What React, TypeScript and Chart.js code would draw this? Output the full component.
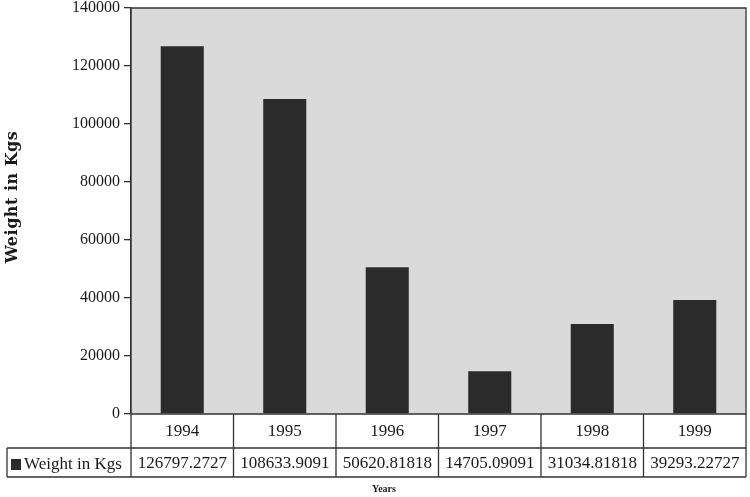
import React, { useEffect, useRef } from "react";
import { Chart, registerables } from "chart.js";

Chart.register(...registerables);

const years = ["1994", "1995", "1996", "1997", "1998", "1999"];
const weights = [126797.2727, 108633.9091, 50620.81818, 14705.09091, 31034.81818, 39293.22727];
const valueLabels = ["126797.2727", "108633.9091", "50620.81818", "14705.09091", "31034.81818", "39293.22727"];
const seriesName = "Weight in Kgs";
const xTitle = "Years";
const yTitle = "Weight in Kgs";

const SERIF = "'Liberation Serif', 'DejaVu Serif', serif";
const BAR = "#2b2b2b";
const LINE = "#333333";

const tablePlugin = {
  id: "tablePlugin",
  beforeDraw(chart: any) {
    const { ctx, chartArea } = chart;
    ctx.save();
    ctx.fillStyle = "#dadada";
    ctx.fillRect(chartArea.left, chartArea.top, chartArea.right - chartArea.left, chartArea.bottom - chartArea.top);
    ctx.restore();
  },
  afterDraw(chart: any) {
    const { ctx, chartArea } = chart;
    const xs = chart.scales.x;
    const left = chartArea.left;
    const right = chartArea.right;
    const top = chartArea.top;
    const bottom = chartArea.bottom;
    const n = years.length;
    const cw = (right - left) / n;
    const row1 = bottom + 34;
    const row2 = row1 + 29;
    const tableLeft = 7;
    ctx.save();
    ctx.strokeStyle = LINE;
    ctx.lineWidth = 1.3;
    ctx.beginPath();
    ctx.moveTo(left, bottom);
    ctx.lineTo(left, top);
    ctx.lineTo(right, top);
    ctx.lineTo(right, bottom);
    ctx.lineTo(left, bottom);
    ctx.stroke();
    ctx.beginPath();
    ctx.moveTo(tableLeft, row1);
    ctx.lineTo(right, row1);
    ctx.moveTo(tableLeft, row2);
    ctx.lineTo(right, row2);
    ctx.moveTo(tableLeft, row1);
    ctx.lineTo(tableLeft, row2);
    for (let i = 0; i <= n; i++) {
      const x = left + i * cw;
      ctx.moveTo(x, bottom);
      ctx.lineTo(x, row2);
    }
    ctx.stroke();
    ctx.fillStyle = "#1a1a1a";
    ctx.font = `17px ${SERIF}`;
    ctx.textAlign = "center";
    ctx.textBaseline = "middle";
    for (let i = 0; i < n; i++) {
      const cx = xs.getPixelForValue(i);
      ctx.fillText(years[i], cx, (bottom + row1) / 2 + 1);
      ctx.fillText(valueLabels[i], cx, (row1 + row2) / 2 + 1);
    }
    ctx.fillStyle = BAR;
    ctx.fillRect(11, row1 + 11, 10, 11);
    ctx.fillStyle = "#1a1a1a";
    ctx.textAlign = "left";
    ctx.fillText(seriesName, 24, (row1 + row2) / 2 + 2);
    ctx.font = `bold 10px ${SERIF}`;
    ctx.textAlign = "center";
    ctx.fillText(xTitle, 384, row2 + 12);
    ctx.save();
    ctx.translate(13, 197);
    ctx.rotate(-Math.PI / 2);
    ctx.font = `bold 16px 'DejaVu Serif', serif`;
    try { (ctx as any).letterSpacing = "0.5px"; } catch (e) {}
    ctx.textAlign = "center";
    ctx.textBaseline = "middle";
    ctx.fillText(yTitle, 0, 0);
    ctx.restore();
    ctx.restore();
  },
};

export default function App() {
  const ref = useRef<HTMLCanvasElement | null>(null);
  useEffect(() => {
    document.body.style.margin = "0";
    if (!ref.current) return;
    const chart = new Chart(ref.current, {
      type: "bar",
      data: {
        labels: years,
        datasets: [
          {
            label: seriesName,
            data: weights,
            backgroundColor: BAR,
            borderWidth: 0,
            barPercentage: 0.84,
            categoryPercentage: 0.5,
          },
        ],
      },
      options: {
        animation: false,
        responsive: false,
        maintainAspectRatio: false,
        layout: { padding: { left: 0, top: 8, right: 4, bottom: 83 } },
        plugins: { legend: { display: false }, tooltip: { enabled: false } },
        scales: {
          x: { display: false },
          y: {
            min: 0,
            max: 140000,
            ticks: {
              stepSize: 20000,
              color: "#1a1a1a",
              padding: 4,
              font: { family: SERIF, size: 16 },
              callback: (v: any) => String(v),
            },
            grid: { drawOnChartArea: false, tickLength: 7, color: LINE, lineWidth: 1.3 },
            border: { display: true, color: LINE, width: 1.3 },
            title: { display: false },
            afterFit(scale: any) {
              scale.width = 131;
              scale.paddingTop = 0;
              scale.paddingBottom = 0;
            },
          },
        },
      },
      plugins: [tablePlugin],
    });
    return () => chart.destroy();
  }, []);
  return (
    <div style={{ width: 750, height: 497 }}>
      <canvas ref={ref} width={750} height={497} style={{ display: "block" }} />
    </div>
  );
}
